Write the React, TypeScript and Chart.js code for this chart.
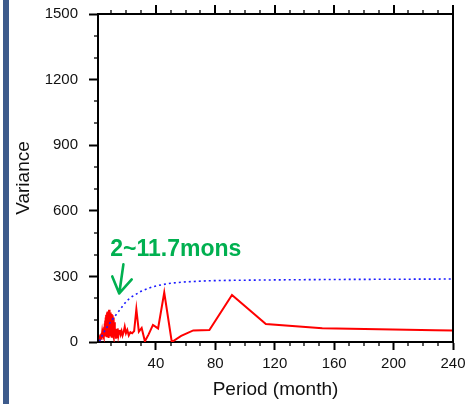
import React, { useEffect, useRef } from "react";
import { Chart, registerables } from "chart.js";

Chart.register(...registerables);

// Red line: variance per period (months), ordered by period
const periods: number[] = [
  2.0, 2.14, 2.28, 2.44, 2.61, 2.81, 3.04, 3.26, 3.51, 3.8, 4.07, 4.35, 4.56,
  4.75, 4.96, 5.18, 5.36, 5.56, 5.7, 5.85, 6.0, 6.16, 6.33, 6.51, 6.71, 6.91,
  7.02, 7.13, 7.24, 7.35, 7.48, 7.6, 7.73, 7.86, 8.0, 8.14, 8.29, 8.44, 8.6,
  8.77, 8.94, 9.12, 9.31, 9.5, 9.7, 9.91, 10.13, 10.36, 10.6, 10.86, 11.12,
  11.4, 11.69, 12.0, 12.32, 12.67, 13.03, 13.41, 13.82, 14.25, 14.71, 15.2,
  15.72, 16.29, 16.89, 17.54, 18.24, 19.0, 19.83, 20.73, 21.71, 22.8, 24.0,
  25.33, 26.82, 28.5, 30.4, 32.57, 35.08, 38.0, 41.45, 45.6, 50.67, 57.0,
  65.14, 76.0, 91.2, 114.0, 152.0, 228.0, 456.0,
];
const variance: number[] = [
  8, 22, 10, 30, 12, 35, 15, 40, 18, 45, 22, 55, 25,
  62, 20, 70, 30, 85, 25, 98, 35, 112, 28, 125, 40, 118,
  22, 135, 45, 140, 30, 120, 50, 132, 18, 140, 40, 147, 35,
  130, 60, 135, 25, 110, 50, 128, 20, 115, 45, 122, 30,
  112, 20, 90, 35, 60, 15, 50, 22, 62, 28, 45,
  55, 35, 50, 30, 45, 70, 40, 55, 30, 45, 40,
  50, 150, 47, 64, 3, 35, 78, 62, 226, 0, 28,
  53, 55, 215, 82, 63, 54, 20,
];

// Blue dotted line: significance level per period
const sigPeriods: number[] = [
  2, 3, 4, 5, 6, 8, 10, 12, 14, 16, 18, 20, 22, 24, 27, 30, 34, 38, 44, 50, 60,
  75, 90, 120, 160, 200, 240,
];
const sigVariance: number[] = [
  4, 18, 32, 45, 56, 78, 97, 115, 132, 150, 168, 185, 198, 208, 220, 232, 243,
  253, 262, 269, 275, 280, 282, 284, 286, 287, 288,
];

// Axis ticks
const xMajorTicks: number[] = [40, 80, 120, 160, 200, 240];
const xMinorStep = 10;
const yMajorStep = 300;
const yMinorStep = 100;

const bandLabel = "2~11.7mons";
const GREEN = "#00b050";

const framePlugin = {
  id: "frameTicks",
  afterDraw(chart: any) {
    const { ctx, chartArea, scales } = chart;
    const xs = scales.x;
    const ys = scales.y;
    ctx.save();
    ctx.strokeStyle = "#000";
    ctx.lineWidth = 2;
    // top and right border
    ctx.beginPath();
    ctx.moveTo(chartArea.left, chartArea.top);
    ctx.lineTo(chartArea.right, chartArea.top);
    ctx.lineTo(chartArea.right, chartArea.bottom);
    ctx.stroke();

    // x minor ticks (bottom, outward) and all ticks on the top edge
    for (let v = xMinorStep; v <= 240; v += xMinorStep) {
      const px = Math.round(xs.getPixelForValue(v));
      const major = v % 40 === 0;
      if (!major) {
        ctx.lineWidth = 1.3;
        ctx.beginPath();
        ctx.moveTo(px, chartArea.bottom);
        ctx.lineTo(px, chartArea.bottom + 4);
        ctx.stroke();
      }
      ctx.lineWidth = major ? 2 : 1.3;
      ctx.beginPath();
      ctx.moveTo(px, chartArea.top);
      ctx.lineTo(px, chartArea.top - (major ? 9 : 4));
      ctx.stroke();
    }
    // y minor ticks (left, outward)
    for (let v = yMinorStep; v < 1500; v += yMinorStep) {
      if (v % yMajorStep === 0) continue;
      const py = Math.round(ys.getPixelForValue(v));
      ctx.lineWidth = 1.3;
      ctx.beginPath();
      ctx.moveTo(chartArea.left, py);
      ctx.lineTo(chartArea.left - 4, py);
      ctx.stroke();
    }

    // band annotation with arrow
    ctx.fillStyle = GREEN;
    ctx.strokeStyle = GREEN;
    ctx.font = "bold 23px 'Liberation Sans', Arial, sans-serif";
    ctx.textBaseline = "alphabetic";
    ctx.textAlign = "left";
    ctx.fillText(bandLabel, xs.getPixelForValue(9.3), ys.getPixelForValue(392));

    const tipX = xs.getPixelForValue(15.3);
    const tipY = ys.getPixelForValue(222);
    const tailX = xs.getPixelForValue(18.1);
    const tailY = ys.getPixelForValue(355);
    ctx.lineWidth = 2.6;
    ctx.lineCap = "round";
    ctx.lineJoin = "round";
    ctx.beginPath();
    ctx.moveTo(tailX, tailY);
    ctx.lineTo(tipX, tipY);
    ctx.moveTo(xs.getPixelForValue(10.6), ys.getPixelForValue(300));
    ctx.lineTo(tipX, tipY);
    ctx.lineTo(xs.getPixelForValue(23.7), ys.getPixelForValue(286));
    ctx.stroke();
    ctx.restore();
  },
};

export default function App() {
  const canvasRef = useRef<HTMLCanvasElement | null>(null);

  useEffect(() => {
    if (!canvasRef.current) return;
    Chart.defaults.font.family = "'Liberation Sans', Arial, sans-serif";
    const chart = new Chart(canvasRef.current, {
      type: "line",
      data: {
        datasets: [
          {
            data: sigPeriods.map((p, i) => ({ x: p, y: sigVariance[i] })),
            borderColor: "#1a1aff",
            borderWidth: 1.6,
            borderDash: [2, 3],
            pointRadius: 0,
            fill: false,
            tension: 0,
          },
          {
            data: periods.map((p, i) => ({ x: p, y: variance[i] })),
            borderColor: "#ff0000",
            borderWidth: 2,
            pointRadius: 0,
            fill: false,
            tension: 0,
          },
        ],
      },
      options: {
        animation: false,
        responsive: false,
        devicePixelRatio: 1,
        layout: { padding: { top: 14, right: 16, left: 0, bottom: 0 } },
        plugins: { legend: { display: false }, tooltip: { enabled: false } },
        scales: {
          x: {
            type: "linear",
            min: 1,
            max: 240,
            afterBuildTicks: (scale: any) => {
              scale.ticks = xMajorTicks.map((v) => ({ value: v }));
            },
            afterFit: (scale: any) => {
              scale.height = 62;
              scale.paddingLeft = 0;
              scale.paddingRight = 0;
            },
            grid: {
              drawOnChartArea: false,
              drawTicks: true,
              tickLength: 8,
              tickWidth: 2,
              tickColor: "#000",
            },
            border: { display: true, color: "#000", width: 2 },
            ticks: {
              color: "#111",
              font: { size: 15 },
              padding: 5,
              maxRotation: 0,
              autoSkip: false,
              callback: (v: any) => String(v),
            },
            title: {
              display: true,
              text: "Period (month)",
              color: "#111",
              font: { size: 19 },
              padding: { top: 0, bottom: 3 },
            },
          },
          y: {
            type: "linear",
            min: 0,
            max: 1500,
            ticks: {
              stepSize: yMajorStep,
              color: "#111",
              font: { size: 15 },
              padding: 11,
              callback: (v: any) => String(v),
            },
            afterFit: (scale: any) => {
              scale.width = 98;
              scale.paddingTop = 0;
              scale.paddingBottom = 0;
            },
            grid: {
              drawOnChartArea: false,
              drawTicks: true,
              tickLength: 9,
              tickWidth: 2,
              tickColor: "#000",
            },
            border: { display: true, color: "#000", width: 2 },
            title: {
              display: true,
              text: "Variance",
              color: "#111",
              font: { size: 19 },
              padding: { top: 12, bottom: 0 },
            },
          },
        },
      },
      plugins: [framePlugin],
    });
    return () => chart.destroy();
  }, []);

  return (
    <div
      style={{
        position: "fixed",
        left: 0,
        top: 0,
        width: 469,
        height: 404,
        background: "#fff",
        overflow: "hidden",
      }}
    >
      <canvas ref={canvasRef} width={469} height={404} style={{ display: "block" }} />
      <div
        style={{
          position: "absolute",
          left: 3,
          top: 0,
          width: 6,
          height: 404,
          background: "#3d5b8c",
        }}
      />
    </div>
  );
}
